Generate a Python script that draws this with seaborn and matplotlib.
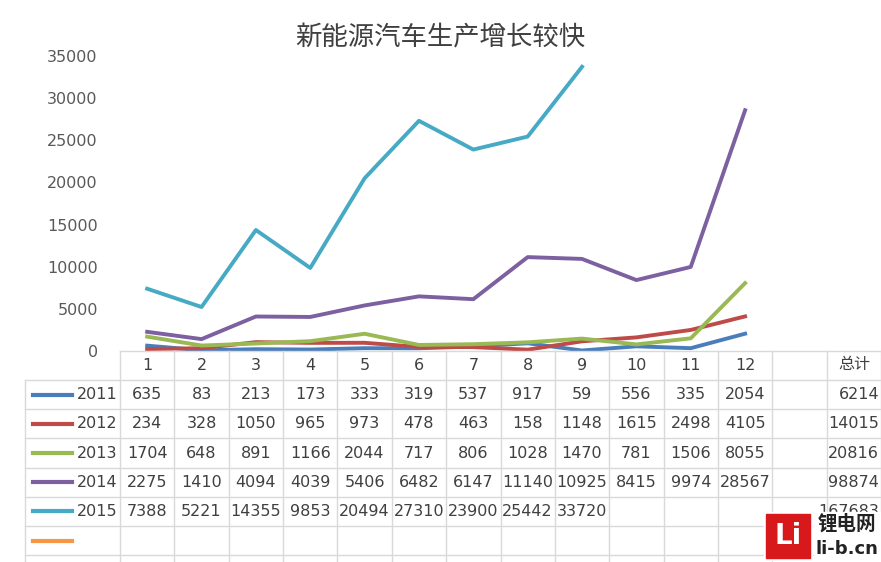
import matplotlib.pyplot as plt
import seaborn as sns
import pandas as pd
from matplotlib.patches import Rectangle
from matplotlib import font_manager as fm

names = sorted(set(f.name for f in fm.fontManager.ttflist if 'CJK' in f.name))
cjk_name = None
for pref in ['Noto Sans CJK SC', 'Sans CJK SC', 'Sans CJK']:
    hits = [n for n in names if pref in n]
    if hits:
        cjk_name = hits[0]
        break
if cjk_name is None and names:
    cjk_name = names[0]
plt.rcParams['font.family'] = 'sans-serif'
plt.rcParams['font.sans-serif'] = ['DejaVu Sans'] + ([cjk_name] if cjk_name else [])

months = list(range(1, 13))
years = ['2011', '2012', '2013', '2014', '2015', '']
v2011 = [635, 83, 213, 173, 333, 319, 537, 917, 59, 556, 335, 2054]
v2012 = [234, 328, 1050, 965, 973, 478, 463, 158, 1148, 1615, 2498, 4105]
v2013 = [1704, 648, 891, 1166, 2044, 717, 806, 1028, 1470, 781, 1506, 8055]
v2014 = [2275, 1410, 4094, 4039, 5406, 6482, 6147, 11140, 10925, 8415, 9974, 28567]
v2015 = [7388, 5221, 14355, 9853, 20494, 27310, 23900, 25442, 33720]
totals = [6214, 14015, 20816, 98874, 167683, None]
colors = ['#4A7EBB', '#BE4B48', '#98B954', '#7D60A0', '#46AAC5', '#F79646']

series = [v2011, v2012, v2013, v2014, v2015, []]
rows = []
for y, vals in zip(years[:5], series[:5]):
    for m, v in zip(months, vals):
        rows.append({'month': m, 'value': v, 'year': y})
df = pd.DataFrame(rows)

W, H = 881, 562
fig = plt.figure(figsize=(W / 100, H / 100), dpi=100)
colw = (881 - 120) / 14.0
ax = fig.add_axes([120 / W, 1 - 351 / H, (881 - 120) / W, (351 - 56) / H])
sns.lineplot(data=df, x='month', y='value', hue='year', palette=colors[:5],
             linewidth=2.8, legend=False, ax=ax)
ax.set_xlim(0.5, 14.5)
ax.set_ylim(0, 35000)
ax.set_yticks(range(0, 35001, 5000))
ax.tick_params(axis='y', length=0, labelsize=11.5, colors='#595959', pad=16)
ax.set_xticks([])
ax.set_xlabel('')
ax.set_ylabel('')
for s in ['top', 'right', 'left', 'bottom']:
    ax.spines[s].set_visible(False)

fig.text(440 / W, 1 - 38 / H, '新能源汽车生产增长较快', ha='center', va='center',
         fontsize=19, color='#404040', family=cjk_name)

def fx(px):
    return px / W

def fy(py):
    return 1 - py / H

lc = '#D9D9D9'
row_top = 380
rh = 29.2
fig.add_artist(plt.Line2D([fx(120), fx(881)], [fy(351), fy(351)], color=lc, lw=1))
for i in range(7):
    yy = row_top + i * rh
    fig.add_artist(plt.Line2D([fx(25), fx(881)], [fy(yy), fy(yy)], color=lc, lw=1))
fig.add_artist(plt.Line2D([fx(25), fx(25)], [fy(380), fy(562)], color=lc, lw=1))
for k in range(15):
    xx = 120 + k * colw
    fig.add_artist(plt.Line2D([fx(xx), fx(xx)], [fy(351), fy(562)], color=lc, lw=1))

hdr = [str(m) for m in months] + ['', '总计']
for k, h in enumerate(hdr):
    fam = cjk_name if h == '总计' else 'DejaVu Sans'
    fig.text(fx(120 + (k + 0.5) * colw), fy(365), h, ha='center', va='center',
             fontsize=11.5, color='#404040', family=fam)

for i, (y, vals, tot, c) in enumerate(zip(years, series, totals, colors)):
    cy = row_top + (i + 0.5) * rh
    fig.add_artist(plt.Line2D([fx(33), fx(72)], [fy(cy), fy(cy)], color=c, lw=3))
    fig.text(fx(77), fy(cy), y, ha='left', va='center', fontsize=11.5, color='#404040')
    for k, v in enumerate(vals):
        fig.text(fx(120 + (k + 0.5) * colw), fy(cy), str(v), ha='center', va='center',
                 fontsize=11.5, color='#404040')
    if tot is not None:
        fig.text(fx(879), fy(cy), str(tot), ha='right', va='center',
                 fontsize=11.5, color='#404040', zorder=1)

# logo
fig.add_artist(Rectangle((fx(764), fy(560)), 48 / W, 48 / H, color='white', zorder=5))
fig.add_artist(Rectangle((fx(766), fy(558)), 44 / W, 44 / H, color='#D7191C', zorder=6))
fig.text(fx(788), fy(536), 'Li', ha='center', va='center', fontsize=20,
         color='white', fontweight='bold', zorder=7)
fig.add_artist(Rectangle((fx(814), fy(562)), 67 / W, 50 / H, color='white', zorder=5))
fig.text(fx(847), fy(524), '锂电网', ha='center', va='center', fontsize=14,
         color='#222222', fontweight='bold', family=cjk_name, zorder=7)
fig.text(fx(847), fy(549), 'li-b.cn', ha='center', va='center', fontsize=13,
         color='#222222', fontweight='bold', zorder=7)

fig.savefig('out.png', dpi=100)
